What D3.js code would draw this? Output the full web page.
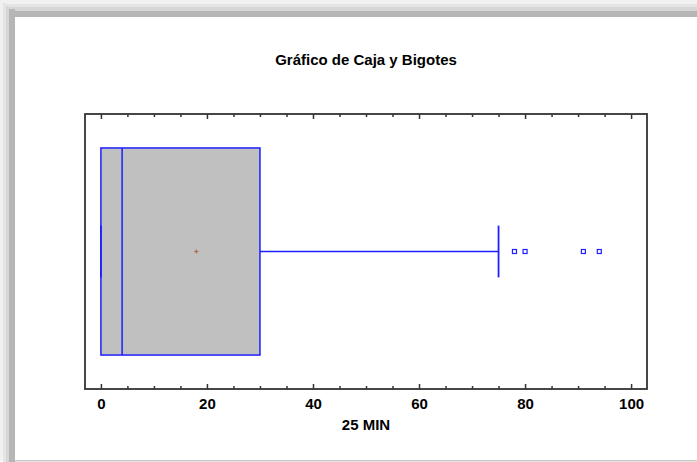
<!DOCTYPE html>
<html>
<head>
<meta charset="utf-8">
<script src="https://cdn.jsdelivr.net/npm/d3@7"></script>
<style>
  html, body { margin: 0; padding: 0; background: #ffffff; }
  svg { display: block; }
  text { font-family: "Liberation Sans", Arial, sans-serif; font-weight: bold; fill: #000; }
</style>
</head>
<body>
<script>
// ---- data ----
const categories = ["25 MIN"];
const boxStats = [0, 0, 4, 30, 75];   // lower whisker, Q1, median, Q3, upper whisker
const meanValues = [18];
const outliers = [78, 80, 91, 94];
const xTicks = [0, 20, 40, 60, 80, 100];
const minorTicks = [5, 10, 15, 25, 30, 35, 45, 50, 55, 65, 70, 75, 85, 90, 95];
const chartTitle = "Gráfico de Caja y Bigotes";
const axisTitle = "25 MIN";

(function () {
const W = 697, H = 462;
const svg = d3.select("body").append("svg").attr("width", W).attr("height", H);

// ---- window-like shadow border ----
svg.append("rect").attr("x", 0).attr("y", 0).attr("width", W).attr("height", H).attr("fill", "#ffffff");
const topBands = [["#f1f1f1", 0, 4], ["#e4e4e4", 4, 7], ["#d6d6d6", 7, 11], ["#b6b6b6", 11, 17]];
topBands.forEach(b => svg.append("rect").attr("x", b[1]).attr("y", b[1]).attr("width", W - b[1]).attr("height", b[2] - b[1]).attr("fill", b[0]));
const leftBands = [["#f1f1f1", 0, 3], ["#e4e4e4", 3, 6], ["#d6d6d6", 6, 9], ["#b6b6b6", 9, 15]];
leftBands.forEach(b => svg.append("rect").attr("x", b[1]).attr("y", Math.min(b[1], 11)).attr("width", b[2] - b[1]).attr("height", H - 1).attr("fill", b[0]));
svg.append("rect").attr("x", 15).attr("y", 17).attr("width", W - 15).attr("height", 443).attr("fill", "#ffffff");
svg.append("rect").attr("x", 15).attr("y", 460).attr("width", W - 15).attr("height", 1.5).attr("fill", "#c8c8c8");

// ---- plot geometry ----
const pL = 85, pR = 647, pT = 114, pB = 389;
const x = d3.scaleLinear().domain([-3, 103]).range([pL, pR]);
const y = d3.scaleBand().domain(categories).range([pT, pB]).paddingInner(0).paddingOuter(0.164);

// title
svg.append("text").attr("x", (pL + pR) / 2).attr("y", 65).attr("text-anchor", "middle")
  .style("font-size", "15px").text(chartTitle);

// frame
svg.append("rect").attr("x", pL).attr("y", pT).attr("width", pR - pL).attr("height", pB - pT)
  .attr("fill", "none").attr("stroke", "#333").attr("stroke-width", 1.8);

function styleTicks(g) {
  g.select(".domain").remove();
  g.selectAll(".tick line").attr("stroke", "#333").attr("stroke-width", 1.5);
}

// axes (ticks inward)
const axB = d3.axisBottom(x).tickValues(xTicks).tickSizeInner(-5).tickSizeOuter(0).tickPadding(9).tickFormat(d3.format("d"));
const gB = svg.append("g").attr("transform", `translate(0,${pB})`).call(axB);
styleTicks(gB);
gB.selectAll(".tick text").style("font-size", "15px").style("font-family", '"Liberation Sans", Arial, sans-serif').style("font-weight", "bold").attr("fill", "#000");

const gBm = svg.append("g").attr("transform", `translate(0,${pB})`)
  .call(d3.axisBottom(x).tickValues(minorTicks).tickSizeInner(-3).tickSizeOuter(0).tickFormat(""));
styleTicks(gBm);

const gT = svg.append("g").attr("transform", `translate(0,${pT})`)
  .call(d3.axisTop(x).tickValues(xTicks).tickSizeInner(-5).tickSizeOuter(0).tickFormat(""));
styleTicks(gT);
const gTm = svg.append("g").attr("transform", `translate(0,${pT})`)
  .call(d3.axisTop(x).tickValues(minorTicks).tickSizeInner(-3).tickSizeOuter(0).tickFormat(""));
styleTicks(gTm);

// axis title
svg.append("text").attr("x", (pL + pR) / 2).attr("y", 430).attr("text-anchor", "middle")
  .style("font-size", "15px").text(axisTitle);

// ---- box plot ----
const blue = "#1f1fff";
const cat = categories[0];
const y0 = y(cat), bw = y.bandwidth(), yc = y0 + bw / 2, cap = bw / 8;
const [wLo, q1, med, q3, wHi] = boxStats;

svg.append("rect").attr("x", x(q1)).attr("y", y0).attr("width", x(q3) - x(q1)).attr("height", bw)
  .attr("fill", "#c0c0c0").attr("stroke", blue).attr("stroke-width", 1.5);
svg.append("line").attr("x1", x(med)).attr("x2", x(med)).attr("y1", y0).attr("y2", y0 + bw)
  .attr("stroke", blue).attr("stroke-width", 1.5);
// whiskers
svg.append("line").attr("x1", x(q3)).attr("x2", x(wHi)).attr("y1", yc).attr("y2", yc).attr("stroke", blue).attr("stroke-width", 1.5);
svg.append("line").attr("x1", x(wLo)).attr("x2", x(q1)).attr("y1", yc).attr("y2", yc).attr("stroke", blue).attr("stroke-width", 1.5);
svg.append("line").attr("x1", x(wHi)).attr("x2", x(wHi)).attr("y1", yc - cap).attr("y2", yc + cap).attr("stroke", blue).attr("stroke-width", 1.8);
svg.append("line").attr("x1", x(wLo)).attr("x2", x(wLo)).attr("y1", yc - cap).attr("y2", yc + cap).attr("stroke", blue).attr("stroke-width", 1.8);

// mean marker
meanValues.forEach(m => {
  svg.append("line").attr("x1", x(m) - 2).attr("x2", x(m) + 2).attr("y1", yc).attr("y2", yc).attr("stroke", "#b06a4a").attr("stroke-width", 1.2);
  svg.append("line").attr("x1", x(m)).attr("x2", x(m)).attr("y1", yc - 2).attr("y2", yc + 2).attr("stroke", "#b06a4a").attr("stroke-width", 1.2);
});

// outliers
svg.selectAll(".out").data(outliers).enter().append("rect").attr("class", "out")
  .attr("x", d => x(d) - 2).attr("y", yc - 2).attr("width", 4).attr("height", 4)
  .attr("fill", "#fff").attr("stroke", blue).attr("stroke-width", 1.2);
})();
</script>
</body>
</html>
